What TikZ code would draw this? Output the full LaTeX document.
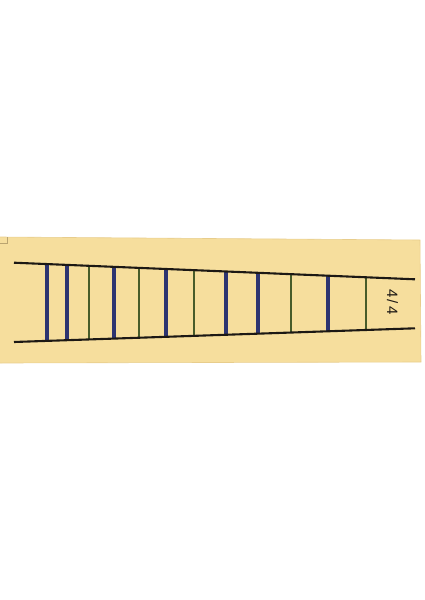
\documentclass[tikz,border=0pt]{standalone}
\usepackage{fontspec}
\setmainfont{Liberation Sans}
\usetikzlibrary{calc}
\definecolor{board}{RGB}{246,222,157}
\definecolor{boardedge}{RGB}{232,205,140}
\definecolor{barblue}{RGB}{45,52,112}
\definecolor{bargreen}{RGB}{72,92,42}
\definecolor{rail}{RGB}{28,24,20}
\tikzset{
  railline/.style={draw=rail,line width=2.1pt},
  bluebar/.style={draw=barblue,line width=4pt},
  greenbar/.style={draw=bargreen,line width=1.3pt},
}
\begin{document}
\begin{tikzpicture}[x=1pt,y=-1pt]
\useasboundingbox (0,0) rectangle (424,600);
\fill[board] (0,237) -- (420,240) -- (421,362) -- (0,363) -- cycle;
\draw[boardedge,line width=0.6pt] (0,237) -- (420,240) -- (421,362) -- (0,363);
\draw[boardedge!80!black,line width=0.5pt] (0,243) -- (7,243) -- (7,237);
\coordinate (TL) at (14,262.7);
\coordinate (TR) at (415,279.3);
\coordinate (BL) at (14,342);
\coordinate (BR) at (415,328.3);
\foreach \t/\s in {0.0823/bluebar,0.1322/bluebar,0.187/greenbar,0.2494/bluebar,0.3117/greenbar,0.379/bluebar,0.4489/greenbar,0.5287/bluebar,0.6085/bluebar,0.6908/greenbar,0.783/bluebar,0.8778/greenbar}{
  \draw[\s] ($(TL)!\t!(TR)$) -- ($(BL)!\t!(BR)$);
}
\draw[railline] (TL) -- (TR);
\draw[railline] (BL) -- (BR);
\node[rotate=-90,font=\fontsize{15pt}{15pt}\selectfont,text=rail,inner sep=0pt] (sig) at (392.5,302) {4\kern2pt/\kern2pt4};
\end{tikzpicture}
\end{document}
